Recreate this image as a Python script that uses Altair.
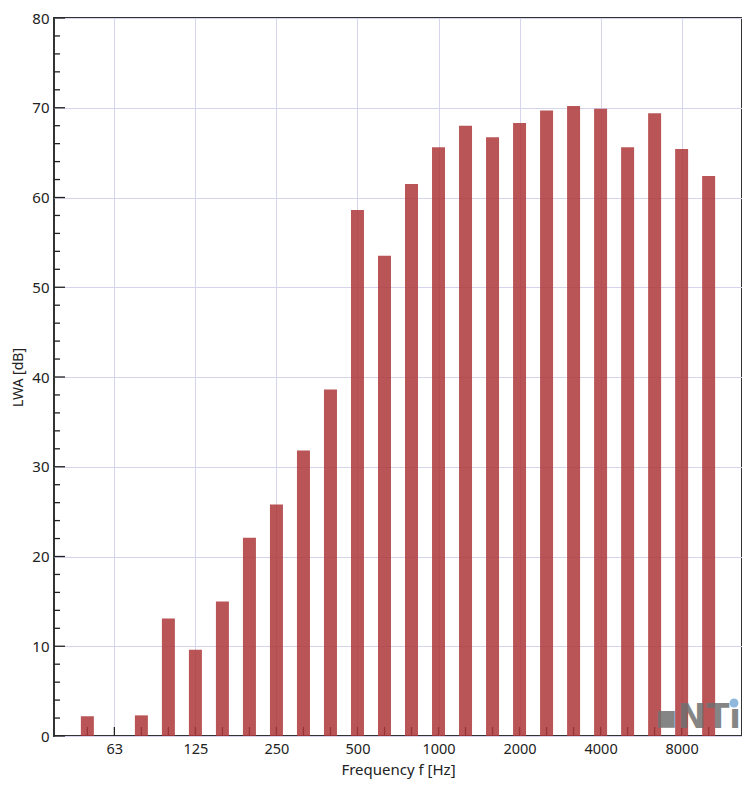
import altair as alt
import pandas as pd

bands = ["50", "63", "80", "100", "125", "160", "200", "250", "315", "400", "500", "630",
         "800", "1000", "1250", "1600", "2000", "2500", "3150", "4000", "5000", "6300",
         "8000", "10000"]
lwa = [2.2, 0.0, 2.3, 13.1, 9.6, 15.0, 22.1, 25.8, 31.8, 38.6, 58.6, 53.5,
       61.5, 65.6, 68.0, 66.7, 68.3, 69.7, 70.2, 69.9, 65.6, 69.4, 65.4, 62.4]
octave_labels = ["63", "125", "250", "500", "1000", "2000", "4000", "8000"]
y_major = [0, 10, 20, 30, 40, 50, 60, 70, 80]
y_minor = [v for v in range(0, 81, 2) if v % 10 != 0]

W, H = 688, 718
FONT = "Noto Sans"

df = pd.DataFrame({"idx": list(range(len(bands))), "band": bands, "lwa": lwa})
octave_idx = [bands.index(b) for b in octave_labels]
label_expr = "{" + ",".join(f"'{i}':'{b}'" for i, b in zip(octave_idx, octave_labels)) + "}[datum.value]"

xscale = alt.Scale(domain=[-1.05, len(bands) - 1 + 1.05], nice=False, zero=False)
yscale = alt.Scale(domain=[0, 80], nice=False)

xenc = alt.X("idx:Q", scale=xscale,
             axis=alt.Axis(values=octave_idx, labelExpr=label_expr, title="Frequency f [Hz]",
                           grid=True, gridColor="#d4d4ec", gridWidth=1, ticks=False, domain=False,
                           labelFont=FONT, labelFontSize=14.5, labelColor="#222", labelPadding=6,
                           titleFont=FONT, titleFontSize=15, titleFontWeight="normal",
                           titleColor="#222", titleBaseline="alphabetic", titleY=38))
yenc = alt.Y("lwa:Q", scale=yscale,
             axis=alt.Axis(values=y_major, title="LWA [dB]", grid=True, gridColor="#d4d4ec",
                           gridWidth=1, ticks=False, domain=False, labelFont=FONT,
                           labelFontSize=15, labelColor="#222", labelPadding=5,
                           titleFont=FONT, titleFontSize=14, titleFontWeight="normal",
                           titleColor="#222", titlePadding=6))

base = alt.Chart(df)

xticks = base.mark_rule(color="#222", strokeWidth=1.3).encode(
    x=alt.X("idx:Q", scale=xscale), y=alt.value(H), y2=alt.value(H - 9))

bars = base.mark_bar(size=13, color="#ad3738", opacity=0.85).encode(x=xenc, y=yenc)

major_df = pd.DataFrame({"v": y_major})
minor_df = pd.DataFrame({"v": y_minor})
ymaj = alt.Chart(major_df).mark_rule(color="#222", strokeWidth=1.3).encode(
    y=alt.Y("v:Q", scale=yscale), x=alt.value(0), x2=alt.value(11))
ymin = alt.Chart(minor_df).mark_rule(color="#222", strokeWidth=1.3).encode(
    y=alt.Y("v:Q", scale=yscale), x=alt.value(0), x2=alt.value(6))

logo_df = pd.DataFrame({"t": ["\u25AANTı"]})
logo = alt.Chart(logo_df).mark_text(font="DejaVu Sans", fontWeight="bold", fontSize=34,
                                    color="#707070", align="right", baseline="alphabetic",
                                    opacity=0.85).encode(
    text="t:N", x=alt.value(W - 1), y=alt.value(H - 8))
dot = alt.Chart(logo_df).mark_point(filled=True, shape="circle", size=80, color="#8fb8dc",
                                    opacity=1).encode(x=alt.value(W - 8), y=alt.value(H - 33))

chart = alt.layer(xticks, bars, ymaj, ymin, logo, dot).properties(
    width=W, height=H,
    autosize=alt.AutoSizeParams(type="none"),
    padding={"left": 46, "top": 10, "right": 0, "bottom": 43},
).configure(background="white").configure_view(stroke="#333333", strokeWidth=2)

chart.save("out.html", embed_options={"renderer": "svg", "actions": False})
